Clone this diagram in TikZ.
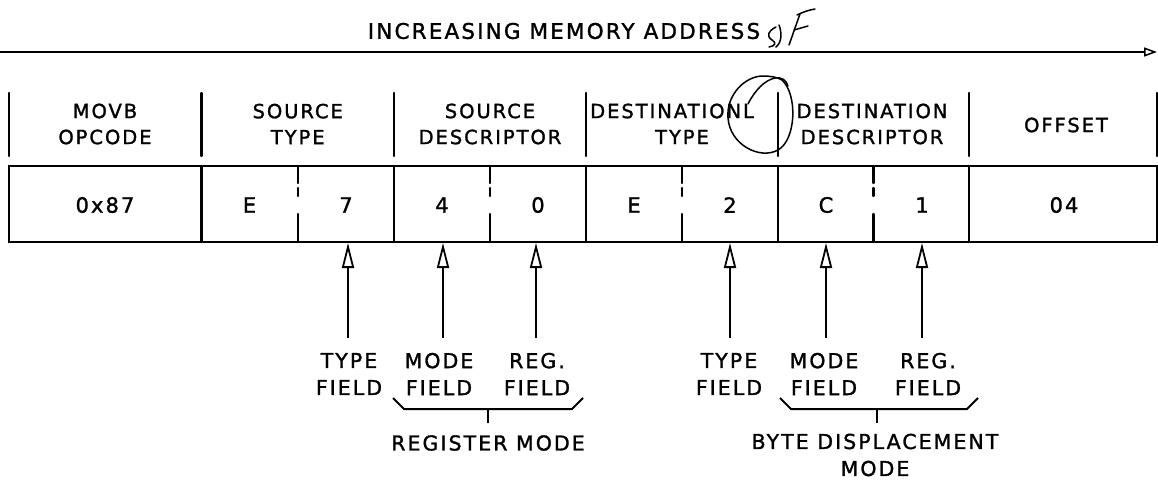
\documentclass[tikz,border=0pt]{standalone}
\usepackage{fontspec}
\setmainfont{DejaVu Sans}[LetterSpace=10, FakeBold=1.4]
\usetikzlibrary{arrows.meta,calc}
\begin{document}
\begin{tikzpicture}[x=1pt,y=-1pt,
  boxline/.style={line width=2.3pt, line cap=round},
  hdr/.style={font=\fontsize{19.5}{26}\selectfont, align=center, inner sep=0pt},
  ttl/.style={font=\fontsize{21.5}{26}\selectfont, inner sep=0pt},
  val/.style={font=\fontsize{21}{24}\selectfont, inner sep=0pt},
  lab/.style={font=\fontsize{20.5}{27}\selectfont, align=center, inner sep=0pt},
  ptr/.style={line width=2.2pt, -{Triangle[open, length=25pt, width=12pt, line width=1.8pt]}},
  bracestyle/.style={line width=2pt, line join=round},
  ink/.style={line width=1.5pt, line cap=round, line join=round}]
\useasboundingbox (0,0) rectangle (1158,479);

% title and address arrow
\node[ttl] (title) at (564,31) {INCREASING MEMORY ADDRESS};
\coordinate (aL) at (0,52);
\coordinate (aR) at (1157,52);
\draw[line width=1.8pt, -{Triangle[open, length=13pt, width=9pt, line width=1.5pt]}] (aL) -- (aR);

% handwritten initials
\draw[ink] (776,27) .. controls (768,31) and (766,36) .. (772,40) .. controls (777,43) and (775,46) .. (769,47);
\draw[ink] (779,25) .. controls (782,33) and (782,42) .. (776,47);
\draw[ink] (789,45) .. controls (793,34) and (797,22) .. (800,14);
\draw[ink] (797,15) .. controls (803,12) and (809,10) .. (815,9);
\draw[ink] (794,30) -- (808,26);

% header separators
\foreach \x/\n in {9/h0,201.5/h1,394/h2,586/h3,778/h4,969/h5,1157/h6}{
  \coordinate (\n t) at (\x,93);
  \coordinate (\n b) at (\x,156);
  \draw[boxline] (\n t) -- (\n b);
}

% header texts
\node[hdr] (hmovb) at (105,124) {MOVB\\OPCODE};
\node[hdr] (hstype) at (297.75,124) {SOURCE\\TYPE};
\node[hdr] (hsdesc) at (490,124) {SOURCE\\DESCRIPTOR};
\node[hdr, anchor=west] (hdtype1) at (590,111) {DESTINATIONL};
\node[hdr] (hdtype2) at (682,137) {TYPE};
\node[hdr] (hddesc) at (872,124) {DESTINATION\\DESCRIPTOR};
\node[hdr] (hoff) at (1066,125) {OFFSET};

% handwritten circle
\draw[ink] (782,80) .. controls (798,95) and (796,140) .. (778,150)
  .. controls (760,160) and (730,145) .. (728,118)
  .. controls (726,95) and (745,76) .. (763,76)
  .. controls (770,76) and (777,77) .. (782,80);
\draw[ink] (748,104) .. controls (755,90) and (765,80) .. (775,78) .. controls (782,77) and (786,80) .. (788,86);

% value box
\coordinate (bTL) at (9,166);
\coordinate (bBR) at (1157,242);
\draw[boxline] (bTL) rectangle (bBR);
\foreach \x in {201.5,394,586,778,969}{
  \draw[boxline] (\x,166) -- (\x,242);
}
\foreach \x in {297.75,490,682,873.5}{
  \draw[boxline] (\x,166) -- (\x,183);
  \draw[boxline] (\x,188) -- (\x,196);
  \draw[boxline] (\x,214) -- (\x,242);
}

% values
\node[val] (v0) at (105,205) {0x87};
\node[val] (v1) at (249.5,205) {E};
\node[val] (v2) at (346,205) {7};
\node[val] (v3) at (442,205) {4};
\node[val] (v4) at (538,205) {0};
\node[val] (v5) at (634,205) {E};
\node[val] (v6) at (730,205) {2};
\node[val] (v7) at (826,205) {C};
\node[val] (v8) at (922,205) {1};
\node[val] (v9) at (1064,205) {04};

% pointer arrows
\foreach \x/\n in {348/p1,443/p2,536/p3,730/p4,826/p5,922/p6}{
  \coordinate (\n s) at (\x,338);
  \coordinate (\n e) at (\x,243);
  \draw[ptr] (\n s) -- (\n e);
}

% field labels
\node[lab] (l1) at (349,374) {TYPE\\FIELD};
\node[lab] (l2) at (439,374) {MODE\\FIELD};
\node[lab] (l3) at (537,374) {REG.\\FIELD};
\node[lab] (l4) at (729,374) {TYPE\\FIELD};
\node[lab] (l5) at (824,374) {MODE\\FIELD};
\node[lab] (l6) at (928,374) {REG.\\FIELD};

% braces
\coordinate (bl1) at (393,398);
\coordinate (br1) at (583,398);
\coordinate (bm1) at (488,409);
\draw[bracestyle] (bl1) -- ++(11,11) -- ($(br1)+(-11,11)$) -- (br1);
\draw[bracestyle] (bm1) -- ++(0,14);
\coordinate (bl2) at (780,398);
\coordinate (br2) at (978,398);
\coordinate (bm2) at (877,409);
\draw[bracestyle] (bl2) -- ++(11,11) -- ($(br2)+(-11,11)$) -- (br2);
\draw[bracestyle] (bm2) -- ++(0,14);

\node[lab] (m1) at (488,443) {REGISTER MODE};
\node[lab] (m2) at (875,455) {BYTE DISPLACEMENT\\MODE};
\end{tikzpicture}
\end{document}
